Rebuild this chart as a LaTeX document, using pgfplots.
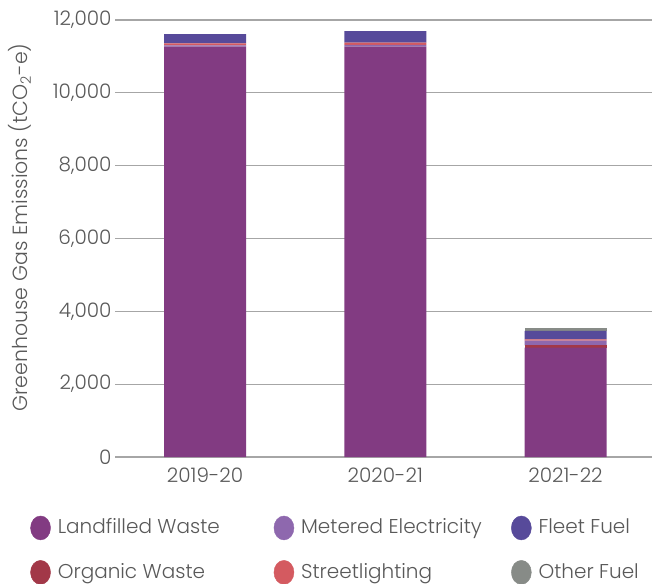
\documentclass[border=0pt]{standalone}
\usepackage{fontspec}
\setmainfont{Poppins Light}
\usepackage{pgfplots}
\pgfplotsset{compat=1.18}
\definecolor{lwaste}{HTML}{823B82}
\definecolor{owaste}{HTML}{A23848}
\definecolor{melec}{HTML}{8E68AE}
\definecolor{slight}{HTML}{D45A60}
\definecolor{ffuel}{HTML}{574A9A}
\definecolor{ofuel}{HTML}{878B87}
\definecolor{gridgray}{HTML}{A6A6A6}
\definecolor{textgray}{HTML}{595959}
\pgfplotsset{legcirc/.style={legend image code/.code={\fill[#1] (10pt,-1pt) ellipse (10pt and 12pt);}}}
\begin{document}
\begin{tikzpicture}[x=1pt,y=1pt]
\begin{axis}[
  at={(115pt,126pt)}, anchor=south west,
  scale only axis, width=537pt, height=437pt,
  xmin=-0.5, xmax=2.48, ymin=0, ymax=12000,
  ybar stacked, bar width=82pt,
  xtick={0,1,2}, xticklabels={2019-20,2020-21,2021-22},
  ytick={0,2000,...,12000},
  scaled y ticks=false,
  axis line style={draw=none},
  major tick length=0pt,
  ymajorgrids, grid style={line width=1.2pt, color=gridgray},
  tick label style={font=\fontsize{20}{24}\selectfont, text=textgray},
  xticklabel style={yshift=-7pt},
  /pgf/number format/assume math mode=true,
  /pgf/number format/1000 sep={,},
  ylabel={Greenhouse Gas Emissions (tCO\textsubscript{2}-e)},
  ylabel style={at={(axis description cs:-0.177,0.525)}, anchor=center, font=\fontsize{20.5}{24}\selectfont, text=textgray},
  legend columns=3,
  legend cell align=left,
  legend style={at={(axis description cs:-0.158,-0.134)}, anchor=north west, draw=none, fill=none, inner sep=0pt,
    font=\fontsize{20}{24}\selectfont, text=textgray, row sep=20pt,
    nodes={inner sep=0pt},
    /tikz/every odd column/.append style={column sep=7pt}},
]
\addplot[fill=lwaste, draw=none, forget plot] coordinates {(0,11267) (1,11267) (2,3002)};
\addplot[fill=owaste, draw=none, forget plot] coordinates {(0,0) (1,0) (2,66)};
\addplot[fill=melec, draw=none, forget plot] coordinates {(0,38) (1,47) (2,126)};
\addplot[fill=slight, draw=none, forget plot] coordinates {(0,55) (1,63) (2,38)};
\addplot[fill=ffuel, draw=none, forget plot] coordinates {(0,255) (1,320) (2,228)};
\addplot[fill=ofuel, draw=none, forget plot] coordinates {(0,0) (1,0) (2,82)};
\addlegendimage{legcirc=lwaste}
\addlegendentry{\makebox[216pt][l]{Landfilled Waste}}
\addlegendimage{legcirc=melec}
\addlegendentry{\makebox[210pt][l]{Metered Electricity}}
\addlegendimage{legcirc=ffuel}
\addlegendentry{Fleet Fuel}
\addlegendimage{legcirc=owaste}
\addlegendentry{\makebox[216pt][l]{Organic Waste}}
\addlegendimage{legcirc=slight}
\addlegendentry{\makebox[210pt][l]{Streetlighting}}
\addlegendimage{legcirc=ofuel}
\addlegendentry{Other Fuel}
\end{axis}
\pgfresetboundingbox
\path[use as bounding box] (0,0) rectangle (652pt,583pt);
\end{tikzpicture}
\end{document}
